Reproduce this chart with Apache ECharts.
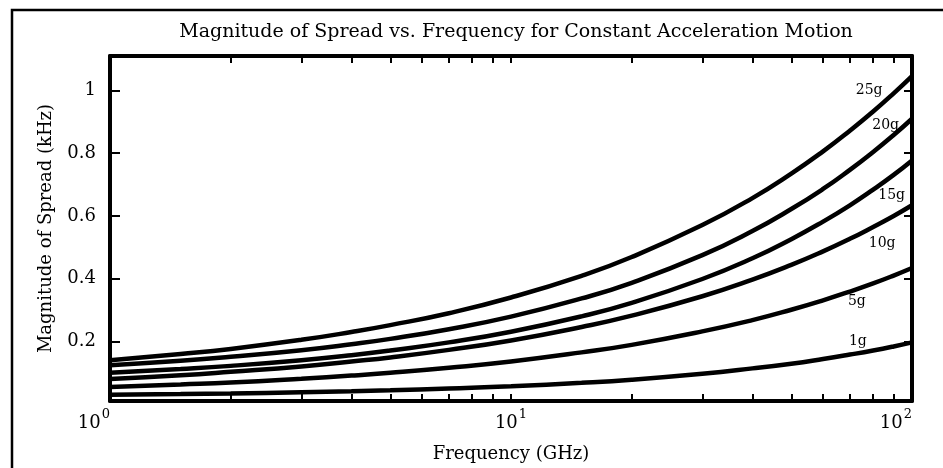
<!DOCTYPE html>
<html>
<head>
<meta charset="utf-8">
<script src="https://cdn.jsdelivr.net/npm/echarts@6/dist/echarts.min.js"></script>
<style>
  html, body { margin: 0; padding: 0; background: #fff; }
  #chart { width: 943px; height: 468px; }
</style>
</head>
<body>
<div id="chart"></div>
<script>
// Frequencies (GHz) at which each spread curve is sampled
const frequencies = [1, 1.5, 2, 3, 4, 5, 7, 10, 15, 20, 30, 40, 50, 60, 70, 80, 90, 100];

// Magnitude of spread (kHz) for each constant acceleration
const spread25g = [0.140, 0.160, 0.176, 0.205, 0.230, 0.252, 0.290, 0.340, 0.409, 0.469, 0.571, 0.657, 0.735, 0.806, 0.872, 0.933, 0.991, 1.046];
const spread20g = [0.124, 0.138, 0.151, 0.172, 0.191, 0.208, 0.239, 0.279, 0.337, 0.387, 0.475, 0.552, 0.622, 0.686, 0.747, 0.804, 0.858, 0.910];
const spread15g = [0.100, 0.112, 0.122, 0.140, 0.156, 0.171, 0.197, 0.231, 0.280, 0.323, 0.399, 0.465, 0.526, 0.582, 0.634, 0.684, 0.731, 0.777];
const spread10g = [0.080, 0.092, 0.103, 0.120, 0.136, 0.149, 0.173, 0.203, 0.246, 0.282, 0.344, 0.397, 0.444, 0.487, 0.527, 0.565, 0.600, 0.634];
const spread5g  = [0.055, 0.063, 0.069, 0.081, 0.091, 0.100, 0.116, 0.136, 0.165, 0.189, 0.232, 0.268, 0.301, 0.331, 0.359, 0.385, 0.410, 0.434];
const spread1g  = [0.030, 0.032, 0.034, 0.038, 0.041, 0.044, 0.050, 0.057, 0.068, 0.078, 0.097, 0.114, 0.129, 0.144, 0.158, 0.171, 0.184, 0.197];

const curveNames = ['25g', '20g', '15g', '10g', '5g', '1g'];
const curveValues = [spread25g, spread20g, spread15g, spread10g, spread5g, spread1g];

// Minor/major tick positions on the logarithmic frequency axis
const freqTicks = [2, 3, 4, 5, 6, 7, 8, 9, 10, 20, 30, 40, 50, 60, 70, 80, 90];

// Where each curve's name sits: which sample it is attached to, and the shift from that point
const labelAnchor = [
  { freq: 80, offset: [-4, -21] },
  { freq: 90, offset: [-8, -10] },
  { freq: 90, offset: [-2, 20] },
  { freq: 80, offset: [9, 16] },
  { freq: 70, offset: [7, 10] },
  { freq: 70, offset: [8, -13] }
];

const FONT = 'DejaVu Serif';
const INK = '#000';

const chart = echarts.init(document.getElementById('chart'), null, { renderer: 'canvas' });

function buildSeries(i) {
  const anchor = labelAnchor[i];
  const data = frequencies.map((f, j) => {
    const point = [f, curveValues[i][j]];
    if (f !== anchor.freq) return point;
    return {
      value: point,
      symbol: 'circle',
      symbolSize: 0,
      label: {
        show: true,
        position: 'inside',
        offset: anchor.offset,
        formatter: curveNames[i],
        fontFamily: FONT,
        fontSize: 14,
        color: INK,
        align: 'center',
        verticalAlign: 'middle'
      }
    };
  });
  return {
    name: curveNames[i],
    type: 'line',
    xAxisIndex: 0,
    yAxisIndex: 0,
    data: data,
    smooth: true,
    symbol: 'none',
    showSymbol: true,
    silent: true,
    animation: false,
    lineStyle: { color: INK, width: 4.5 },
    itemStyle: { color: INK }
  };
}

const superscriptRich = {
  b: { fontFamily: FONT, fontSize: 18, color: INK, lineHeight: 24, verticalAlign: 'bottom' },
  s: { fontFamily: FONT, fontSize: 13, color: INK, lineHeight: 14, verticalAlign: 'top', padding: [0, 0, 0, 1] }
};

const option = {
  backgroundColor: '#fff',
  animation: false,
  title: {
    text: 'Magnitude of Spread vs. Frequency for Constant Acceleration Motion',
    left: 511,
    top: 18,
    textAlign: 'center',
    textStyle: { fontFamily: FONT, fontSize: 19, fontWeight: 'normal', color: INK }
  },
  grid: { left: 110, right: 31, top: 56, bottom: 67, containLabel: false },
  xAxis: [
    {
      type: 'log',
      logBase: 10,
      min: 1,
      max: 100,
      position: 'bottom',
      name: 'Frequency (GHz)',
      nameLocation: 'middle',
      nameGap: 44,
      nameTextStyle: { fontFamily: FONT, fontSize: 18, color: INK },
      axisLine: { show: true, lineStyle: { color: INK, width: 4 } },
      axisTick: { show: true, inside: true, length: 7, customValues: freqTicks, lineStyle: { color: INK, width: 2 } },
      minorTick: { show: false },
      splitLine: { show: false },
      axisLabel: {
        show: true,
        margin: 7,
        alignMinLabel: 'right',
        alignMaxLabel: 'right',
        formatter: v => '{b|10}{s|' + Math.round(Math.log10(v)) + '}',
        rich: superscriptRich
      }
    },
    {
      type: 'log',
      logBase: 10,
      min: 1,
      max: 100,
      position: 'top',
      axisLine: { show: true, lineStyle: { color: INK, width: 4 } },
      axisTick: { show: true, inside: true, length: 7, customValues: freqTicks, lineStyle: { color: INK, width: 2 } },
      splitLine: { show: false },
      axisLabel: { show: false }
    }
  ],
  yAxis: [
    {
      type: 'value',
      min: 0.01,
      max: 1.11,
      splitNumber: 5,
      position: 'left',
      name: 'Magnitude of Spread (kHz)',
      nameLocation: 'middle',
      nameGap: 55,
      nameTextStyle: { fontFamily: FONT, fontSize: 18, color: INK },
      axisLine: { show: true, lineStyle: { color: INK, width: 4 } },
      axisTick: { show: true, inside: true, length: 10, lineStyle: { color: INK, width: 2 } },
      splitLine: { show: false },
      axisLabel: {
        show: true,
        margin: 14,
        showMinLabel: false,
        showMaxLabel: false,
        fontFamily: FONT,
        fontSize: 18,
        color: INK
      }
    },
    {
      type: 'value',
      min: 0.01,
      max: 1.11,
      splitNumber: 5,
      position: 'right',
      axisLine: { show: true, lineStyle: { color: INK, width: 4 } },
      axisTick: { show: true, inside: true, length: 8, lineStyle: { color: INK, width: 2 } },
      splitLine: { show: false },
      axisLabel: { show: false }
    }
  ],
  graphic: [
    // Outer page frame along the top and left edges
    {
      type: 'polyline',
      silent: true,
      shape: { points: [[12, 470], [12, 10], [945, 10]] },
      style: { stroke: INK, lineWidth: 2.5, fill: null }
    }
  ],
  series: curveValues.map((_, i) => buildSeries(i))
};

chart.setOption(option);
</script>
</body>
</html>
